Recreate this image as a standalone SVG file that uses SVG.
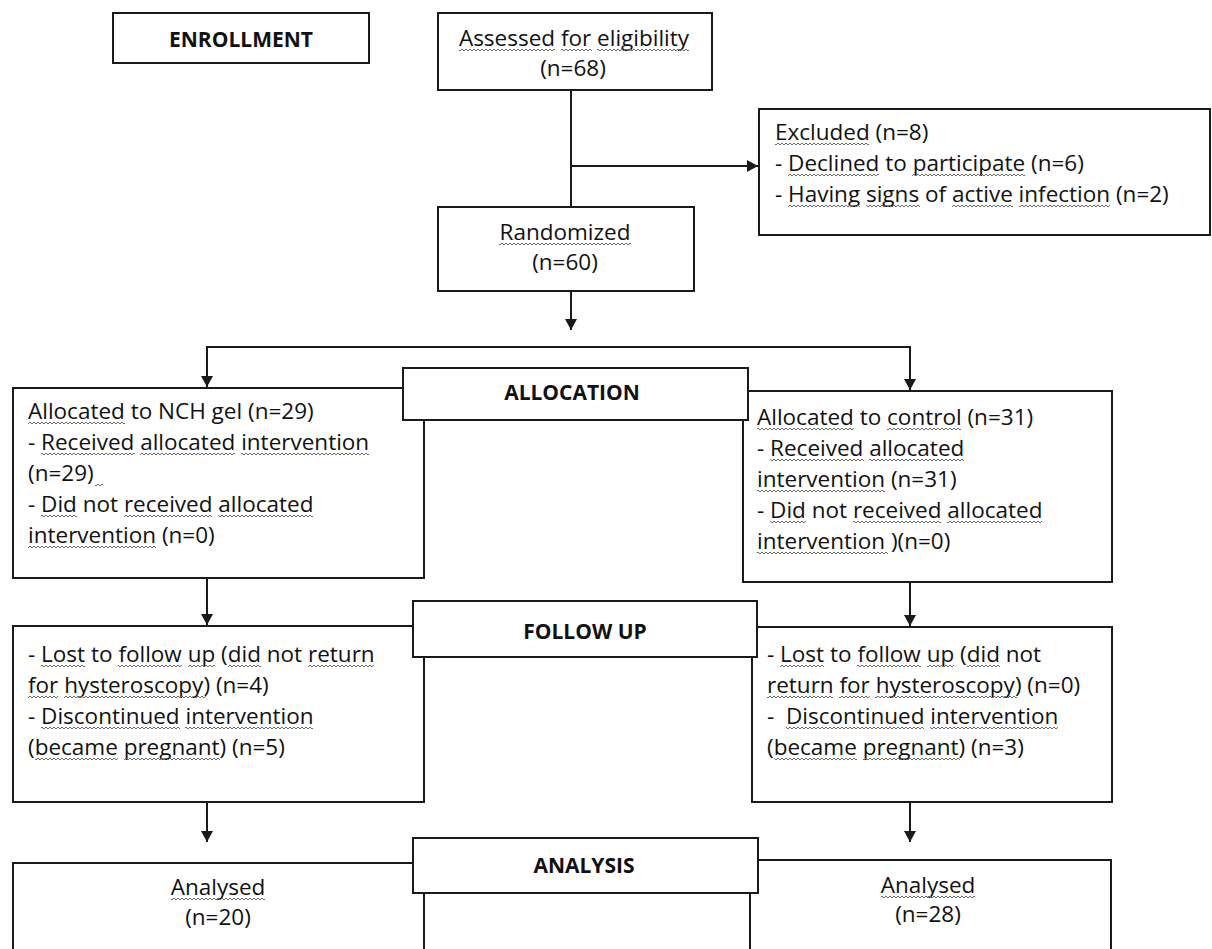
<svg xmlns="http://www.w3.org/2000/svg" width="1212" height="949" viewBox="0 0 1212 949">
<style>
rect.n{fill:#fff;stroke:#1a1a1a;stroke-width:2}
.s{fill:url(#sq);stroke:none}
.c{fill:none;stroke:#1a1a1a;stroke-width:2}
text{font-family:"Open Sans","Liberation Sans",sans-serif;font-size:22.5px;fill:#111}
.b{font-weight:bold;font-size:21px}
.m{text-anchor:middle}
</style>
<defs>
<marker id="ah" markerUnits="userSpaceOnUse" markerWidth="12" markerHeight="12" refX="11" refY="6" orient="auto"><path d="M0,0 L11,6 L0,12 z" fill="#1a1a1a"/></marker>
<pattern id="sq" width="4" height="4" patternUnits="userSpaceOnUse"><path d="M-2,1 L0,3 L2,1 L4,3 L6,1" fill="none" stroke="#6a6a6a" stroke-width="1"/></pattern>
</defs>
<g id="connectors">
<path class="c" d="M571,90 V207"/>
<path class="c" d="M571,166 H758" marker-end="url(#ah)"/>
<path class="c" d="M571,291 V330" marker-end="url(#ah)"/>
<path class="c" d="M207,347 H910"/>
<path class="c" d="M207,346 V387" marker-end="url(#ah)"/>
<path class="c" d="M910,346 V390" marker-end="url(#ah)"/>
<path class="c" d="M207,578 V625" marker-end="url(#ah)"/>
<path class="c" d="M910,582 V626" marker-end="url(#ah)"/>
<path class="c" d="M207,802 V842" marker-end="url(#ah)"/>
<path class="c" d="M910,802 V842" marker-end="url(#ah)"/>
</g>
<g id="enrollment"><rect class="n" x="113" y="13" width="256" height="50"/><text class="b m" x="241" y="47">ENROLLMENT</text></g>
<g id="assessed"><rect class="n" x="438" y="13" width="274" height="77"/>
<text class="m" x="574" y="46"><tspan>Assessed for eligibility</tspan></text>
<text class="m" x="573" y="76">(n=68)</text>
<g transform="translate(0,48)"><rect class="s" x="459" width="96" height="4"/><rect class="s" x="561" width="31" height="4"/><rect class="s" x="597" width="92" height="4"/></g></g>
<g id="excluded"><rect class="n" x="759" y="109" width="451" height="126"/>
<text x="775" y="140"><tspan>Excluded</tspan> (n=8)</text>
<text x="775" y="171">- <tspan>Declined</tspan> to <tspan>participate</tspan> (n=6)</text>
<text x="775" y="202">- <tspan>Having signs</tspan> of <tspan>active infection</tspan> (n=2)</text>
<g transform="translate(0,142)"><rect class="s" x="775" width="94" height="4"/></g>
<g transform="translate(0,173)"><rect class="s" x="788" width="91" height="4"/><rect class="s" x="912" width="113" height="4"/></g>
<g transform="translate(0,204)"><rect class="s" x="788" width="72" height="4"/><rect class="s" x="866" width="54" height="4"/><rect class="s" x="952" width="61" height="4"/><rect class="s" x="1019" width="91" height="4"/></g></g>
<g id="randomized"><rect class="n" x="438" y="207" width="256" height="84"/>
<text class="m" x="565" y="240"><tspan>Randomized</tspan></text>
<text class="m" x="565" y="270">(n=60)</text>
<g transform="translate(0,242)"><rect class="s" x="499" width="132" height="4"/></g></g>
<g id="alloc-nch"><rect class="n" x="13" y="388" width="411" height="190"/>
<text x="28" y="419"><tspan>Allocated</tspan> to NCH gel (n=29)</text>
<text x="28" y="450">- <tspan>Received allocated intervention</tspan></text>
<text x="28" y="481">(n=29)</text>
<text x="28" y="512">- <tspan>Did</tspan> not <tspan>received allocated</tspan></text>
<text x="28" y="543"><tspan>intervention</tspan> (n=0)</text>
<g transform="translate(0,421)"><rect class="s" x="28" width="97" height="4"/></g>
<g transform="translate(0,452)"><rect class="s" x="41" width="94" height="4"/><rect class="s" x="140" width="95" height="4"/><rect class="s" x="241" width="128" height="4"/></g>
<g transform="translate(0,483)"><rect class="s" x="95" width="8" height="4"/></g>
<g transform="translate(0,514)"><rect class="s" x="41" width="36" height="4"/><rect class="s" x="124" width="88" height="4"/><rect class="s" x="218" width="95" height="4"/></g>
<g transform="translate(0,545)"><rect class="s" x="28" width="128" height="4"/></g></g>
<g id="alloc-control"><rect class="n" x="743" y="391" width="369" height="191"/>
<text x="757" y="425"><tspan>Allocated</tspan> to <tspan>control</tspan> (n=31)</text>
<text x="757" y="456">- <tspan>Received allocated</tspan></text>
<text x="757" y="487"><tspan>intervention</tspan> (n=31)</text>
<text x="757" y="518">- <tspan>Did</tspan> not <tspan>received allocated</tspan></text>
<text x="757" y="549"><tspan>intervention</tspan> )(n=0)</text>
<g transform="translate(0,427)"><rect class="s" x="757" width="97" height="4"/><rect class="s" x="887" width="74" height="4"/></g>
<g transform="translate(0,458)"><rect class="s" x="770" width="94" height="4"/><rect class="s" x="869" width="95" height="4"/></g>
<g transform="translate(0,489)"><rect class="s" x="757" width="128" height="4"/></g>
<g transform="translate(0,520)"><rect class="s" x="770" width="36" height="4"/><rect class="s" x="853" width="88" height="4"/><rect class="s" x="947" width="95" height="4"/></g>
<g transform="translate(0,551)"><rect class="s" x="757" width="131" height="4"/></g></g>
<g id="allocation"><rect class="n" x="403" y="368" width="345" height="52"/><text class="b m" x="572" y="400">ALLOCATION</text></g>
<g id="fu-nch"><rect class="n" x="13" y="626" width="411" height="176"/>
<text x="28" y="662">- <tspan>Lost</tspan> to <tspan>follow up</tspan> (<tspan>did</tspan> not <tspan>return</tspan></text>
<text x="28" y="693"><tspan>for hysteroscopy</tspan>) (n=4)</text>
<text x="28" y="724">- <tspan>Discontinued intervention</tspan></text>
<text x="28" y="755">(<tspan>became pregnant</tspan>) (n=5)</text>
<g transform="translate(0,664)"><rect class="s" x="41" width="44" height="4"/><rect class="s" x="118" width="64" height="4"/><rect class="s" x="188" width="27" height="4"/><rect class="s" x="228" width="33" height="4"/><rect class="s" x="308" width="66" height="4"/></g>
<g transform="translate(0,695)"><rect class="s" x="28" width="30" height="4"/><rect class="s" x="64" width="142" height="4"/></g>
<g transform="translate(0,726)"><rect class="s" x="41" width="139" height="4"/><rect class="s" x="185" width="128" height="4"/></g>
<g transform="translate(0,757)"><rect class="s" x="35" width="83" height="4"/><rect class="s" x="124" width="96" height="4"/></g></g>
<g id="fu-control"><rect class="n" x="752" y="627" width="360" height="175"/>
<text x="767" y="662">- <tspan>Lost</tspan> to <tspan>follow up</tspan> (<tspan>did</tspan> not</text>
<text x="767" y="693"><tspan>return for hysteroscopy</tspan>) (n=0)</text>
<text x="767" y="724" xml:space="preserve">-  <tspan>Discontinued intervention</tspan></text>
<text x="767" y="755">(<tspan>became pregnant</tspan>) (n=3)</text>
<g transform="translate(0,664)"><rect class="s" x="780" width="44" height="4"/><rect class="s" x="857" width="64" height="4"/><rect class="s" x="927" width="27" height="4"/><rect class="s" x="967" width="33" height="4"/></g>
<g transform="translate(0,695)"><rect class="s" x="767" width="66" height="4"/><rect class="s" x="839" width="31" height="4"/><rect class="s" x="875" width="142" height="4"/></g>
<g transform="translate(0,726)"><rect class="s" x="786" width="138" height="4"/><rect class="s" x="930" width="128" height="4"/></g>
<g transform="translate(0,757)"><rect class="s" x="774" width="83" height="4"/><rect class="s" x="863" width="97" height="4"/></g></g>
<g id="followup"><rect class="n" x="413" y="601" width="344" height="56"/><text class="b m" x="585" y="639">FOLLOW UP</text></g>
<g id="an-nch"><rect class="n" x="13" y="863" width="411" height="100"/>
<text class="m" x="218" y="895"><tspan>Analysed</tspan></text>
<text class="m" x="218" y="925">(n=20)</text>
<g transform="translate(0,897)"><rect class="s" x="171" width="94" height="4"/></g></g>
<g id="an-control"><rect class="n" x="750" y="860" width="361" height="100"/>
<text class="m" x="928" y="893"><tspan>Analysed</tspan></text>
<text class="m" x="928" y="922">(n=28)</text>
<g transform="translate(0,895)"><rect class="s" x="881" width="94" height="4"/></g></g>
<g id="analysis"><rect class="n" x="413" y="838" width="345" height="55"/><text class="b m" x="584" y="873">ANALYSIS</text></g>
</svg>
